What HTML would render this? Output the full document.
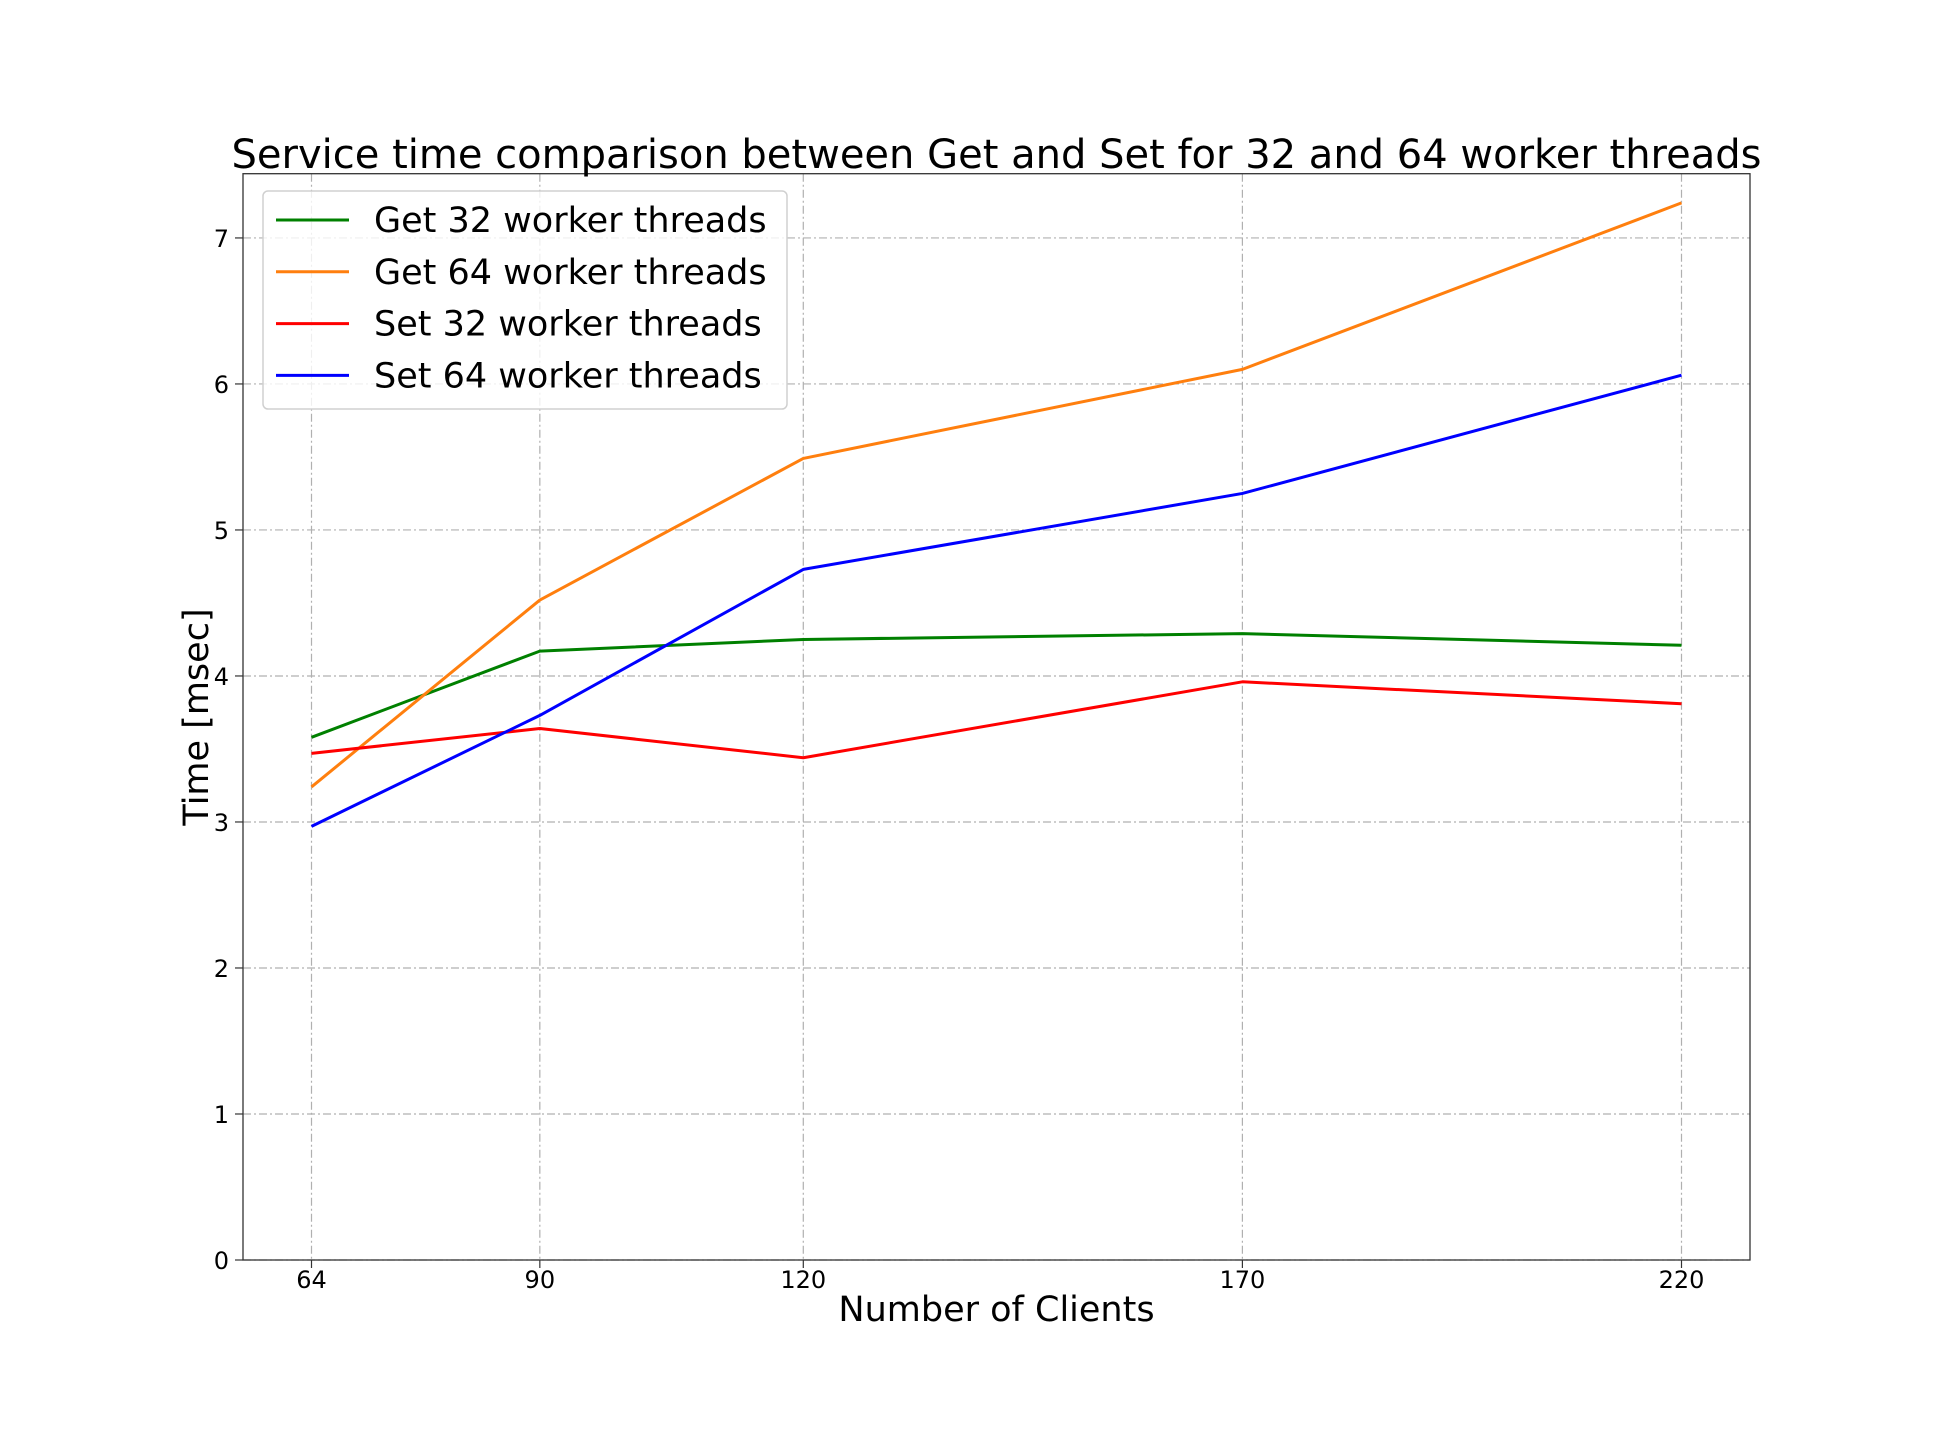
<!DOCTYPE html>
<html><head><meta charset="utf-8"><style>
body{margin:0;background:#fff}
svg{display:block;font-family:"DejaVu Sans","Liberation Sans",sans-serif}
</style></head><body>
<svg id="chart" width="1944" height="1440" viewBox="0 0 1944 1440">
<rect width="1944" height="1440" fill="#fff"/>
<g id="grid"></g><g id="lines"></g><g id="axes"></g>
<text x="996.5" y="168" text-anchor="middle" font-size="40">Service time comparison between Get and Set for 32 and 64 worker threads</text>
<text x="996.5" y="1321" text-anchor="middle" font-size="35">Number of Clients</text>
<text transform="translate(208,717) rotate(-90)" text-anchor="middle" font-size="35">Time [msec]</text>
<g id="legend"></g>
</svg>
<script>
const categories=[64,90,120,170,220];
const yTicks=[0,1,2,3,4,5,6,7];
const seriesNames=["Get 32 worker threads","Get 64 worker threads","Set 32 worker threads","Set 64 worker threads"];
const get32=[3.58,4.17,4.25,4.29,4.21];
const get64=[3.24,4.52,5.49,6.10,7.24];
const set32=[3.47,3.64,3.44,3.96,3.81];
const set64=[2.97,3.73,4.73,5.25,6.06];
const colors=["#008000","#ff7f0e","#ff0000","#0000ff"];
const series=[get32,get64,set32,set64];
const L=243,R=1750,T=173.7,B=1260;
const xMin=56.2,xMax=227.8,yMin=0,yMax=7.44;
const sx=v=>L+(v-xMin)/(xMax-xMin)*(R-L);
const sy=v=>B-(v-yMin)/(yMax-yMin)*(B-T);
const NS="http://www.w3.org/2000/svg";
function mk(t,a,p){const e=document.createElementNS(NS,t);for(const k in a)e.setAttribute(k,a[k]);p.appendChild(e);return e;}
const grid=document.getElementById('grid'),axes=document.getElementById('axes'),lines=document.getElementById('lines'),leg=document.getElementById('legend');
categories.forEach(c=>{const x=sx(c);
const g=mk('line',{x1:x,x2:x,y1:T,y2:B,stroke:'#b0b0b0','stroke-width':1.2,'stroke-dasharray':'8 3 2 3'},grid);


mk('line',{x1:x,x2:x,y1:B,y2:B+8,stroke:'#333','stroke-width':1.2},axes);
const t=mk('text',{x:x,y:B+28,'text-anchor':'middle','font-size':24},axes);t.textContent=c;


});
yTicks.forEach(v=>{const y=sy(v);
const g=mk('line',{x1:L,x2:R,y1:y,y2:y,stroke:'#b0b0b0','stroke-width':1.2,'stroke-dasharray':'8 3 2 3'},grid);


mk('line',{x1:L-8,x2:L,y1:y,y2:y,stroke:'#333','stroke-width':1.2},axes);
const t=mk('text',{x:L-14,y:y+9,'text-anchor':'end','font-size':24},axes);t.textContent=v;


});
const fr=mk('rect',{x:L,y:T,width:R-L,height:B-T,fill:'none',stroke:'#333','stroke-width':1.3},axes);


series.forEach((s,i)=>{
const p=mk('polyline',{points:s.map((v,j)=>sx(categories[j])+','+sy(v)).join(' '),fill:'none',stroke:colors[i],'stroke-width':3,'stroke-linejoin':'round'},lines);


});
const lb=mk('rect',{x:263,y:191,width:524,height:218,rx:5,fill:'#fff','fill-opacity':0.8,stroke:'#d0d0d0','stroke-width':1.5},leg);


seriesNames.forEach((n,i)=>{const y=220+i*51.8;
const g=mk('g',{},leg);


mk('line',{x1:276,x2:349,y1:y,y2:y,stroke:colors[i],'stroke-width':3},g);
const t=mk('text',{x:374,y:y+12,'font-size':35},g);t.textContent=n;});
</script>
</body></html>
